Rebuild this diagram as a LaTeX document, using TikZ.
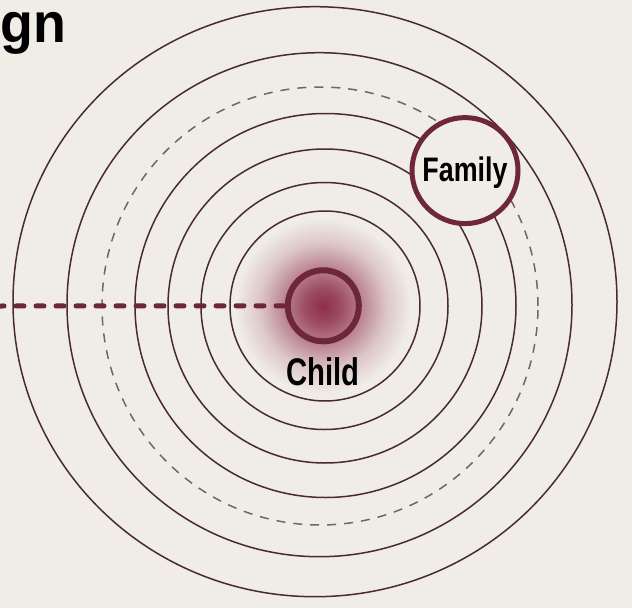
\documentclass[tikz,border=0pt]{standalone}
\usepackage{fontspec}
\setmainfont{Liberation Sans}
\usepackage{graphicx}
\definecolor{bg}{HTML}{F0EDE7}
\definecolor{ring}{HTML}{4A2A31}
\definecolor{accent}{HTML}{6E2639}
\definecolor{dashgray}{HTML}{6E6668}
\definecolor{glowc}{HTML}{8E2E4C}
\pgfdeclareradialshading{childglow}{\pgfpoint{0bp}{0bp}}{%
  color(0bp)=(glowc);
  color(5bp)=(glowc!85!bg);
  color(11bp)=(glowc!55!bg);
  color(18bp)=(glowc!20!bg);
  color(25bp)=(bg);
  color(50bp)=(bg)}
\tikzset{
  ringline/.style={draw=ring, line width=1.5pt},
  dashring/.style={draw=dashgray, line width=1.5pt, dash pattern=on 9pt off 8pt},
  hubcircle/.style={circle, draw=accent, inner sep=0pt},
  labeltext/.style={inner sep=0pt, anchor=base, font=\bfseries},
  linkline/.style={draw=accent, line width=5pt, line cap=round, dash pattern=on 8pt off 12pt}
}
\begin{document}
\begin{tikzpicture}[x=1pt,y=-1pt]
\useasboundingbox (0,0) rectangle (632,608);
\fill[bg] (0,0) rectangle (632,608);
% glow
\shade[shading=childglow] (323,306) circle (88pt);
% rings
\draw[ringline] (315,301.7) ellipse [x radius=302pt, y radius=295pt];
\draw[ringline] (319.5,304.7) ellipse [x radius=252.5pt, y radius=252pt];
\draw[dashring] (320,306) ellipse [x radius=218pt, y radius=219pt];
\draw[ringline] (325.5,305.5) ellipse [x radius=190.5pt, y radius=192pt];
\draw[ringline] (325,306) circle (157pt);
\draw[ringline] (324.5,306) circle (123.5pt);
\draw[ringline] (325,306) circle (95pt);
% child
\node[hubcircle, line width=6pt, minimum size=71pt] (child) at (323.3,305.8) {};
\coordinate (leftend) at (-4,306);
\draw[linkline] (leftend) -- (child.west);
\node[labeltext] (childlabel) at (323,385) {\scalebox{0.76}[1]{\fontsize{38.5}{38.5}\selectfont Child}};
% family
\node[hubcircle, line width=5pt, minimum size=106pt, fill=bg] (family) at (465,170.6) {};
\node[labeltext] (familylabel) at (465,181.7) {\scalebox{0.79}[1]{\fontsize{34}{34}\selectfont Family}};
% title fragment
\node[inner sep=0pt, anchor=base west, font=\fontsize{56}{56}\selectfont\bfseries] (title) at (0,42) {\scalebox{0.96}[1]{gn}};
\end{tikzpicture}
\end{document}
